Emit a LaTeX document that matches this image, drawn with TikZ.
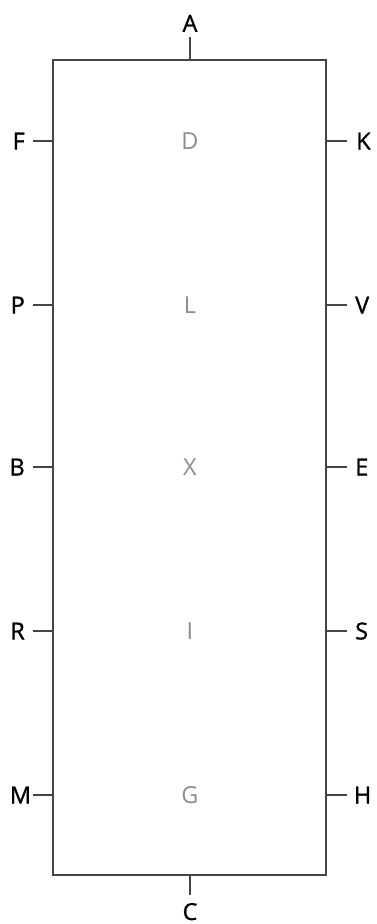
\documentclass[tikz,border=0pt]{standalone}
\usepackage{fontspec}
\setmainfont{Open Sans}
\newfontfamily\pinfont{Open Sans}[FakeBold=1.2]
\usepackage{tikz}
\usetikzlibrary{positioning}
\definecolor{boxline}{HTML}{454545}
\definecolor{innergray}{HTML}{8C8C8C}
\tikzset{
  pinbox/.style={
    draw=boxline,
    line width=1.6pt,
    minimum width=8.19cm,
    minimum height=24.45cm,
    inner sep=0pt
  },
  pinlabel/.style={
    font=\pinfont\fontsize{20}{24}\selectfont,
    text=black,
    inner sep=0.24cm,
    text height=14.3pt,
    text depth=0pt
  },
  innerlabel/.style={
    font=\fontsize{20}{24}\selectfont,
    text=innergray,
    inner sep=0pt,
    text height=14.3pt,
    text depth=0pt
  },
  pin/.style={
    draw=boxline,
    line width=1.6pt
  }
}
\begin{document}
\begin{tikzpicture}[x=0.03cm, y=-0.03cm]
  \useasboundingbox (0,0) rectangle (377,924);

  % the block
  \node[pinbox] (box) at (189.5,467.5) {};

  % top and bottom pins
  \node[pinlabel, anchor=south, inner sep=0.15cm] (A) at (190,37) {A};
  \node[pinlabel, anchor=north, inner sep=0.24cm] (C) at (190,895) {C};
  \draw[pin] (A.south) -- (A.south |- box.north);
  \draw[pin] (C.north) -- (C.north |- box.south);

  % left side pins
  \node[pinlabel, anchor=east] (F) at (33,141) {F};
  \node[pinlabel, anchor=east] (P) at (33,305) {P};
  \node[pinlabel, anchor=east] (B) at (33,467) {B};
  \node[pinlabel, anchor=east] (R) at (33,631) {R};
  \node[pinlabel, anchor=east, inner sep=0.05cm] (M) at (33,795) {M};
  \draw[pin] (F.east) -- (F.east -| box.west);
  \draw[pin] (P.east) -- (P.east -| box.west);
  \draw[pin] (B.east) -- (B.east -| box.west);
  \draw[pin] (R.east) -- (R.east -| box.west);
  \draw[pin] (M.east) -- (M.east -| box.west);

  % right side pins
  \node[pinlabel, anchor=west, inner sep=0.27cm] (K) at (347,141) {K};
  \node[pinlabel, anchor=west] (V) at (347,305) {V};
  \node[pinlabel, anchor=west] (E) at (347,467) {E};
  \node[pinlabel, anchor=west] (S) at (347,631) {S};
  \node[pinlabel, anchor=west, inner sep=0.2cm] (H) at (347,795) {H};
  \draw[pin] (K.west) -- (K.west -| box.east);
  \draw[pin] (V.west) -- (V.west -| box.east);
  \draw[pin] (E.west) -- (E.west -| box.east);
  \draw[pin] (S.west) -- (S.west -| box.east);
  \draw[pin] (H.west) -- (H.west -| box.east);

  % inner labels
  \node[innerlabel] (D) at (190,141) {D};
  \node[innerlabel] (L) at (190,305) {L};
  \node[innerlabel] (X) at (190,467) {X};
  \node[innerlabel] (I) at (190,631) {I};
  \node[innerlabel] (G) at (190,795) {G};
\end{tikzpicture}
\end{document}
